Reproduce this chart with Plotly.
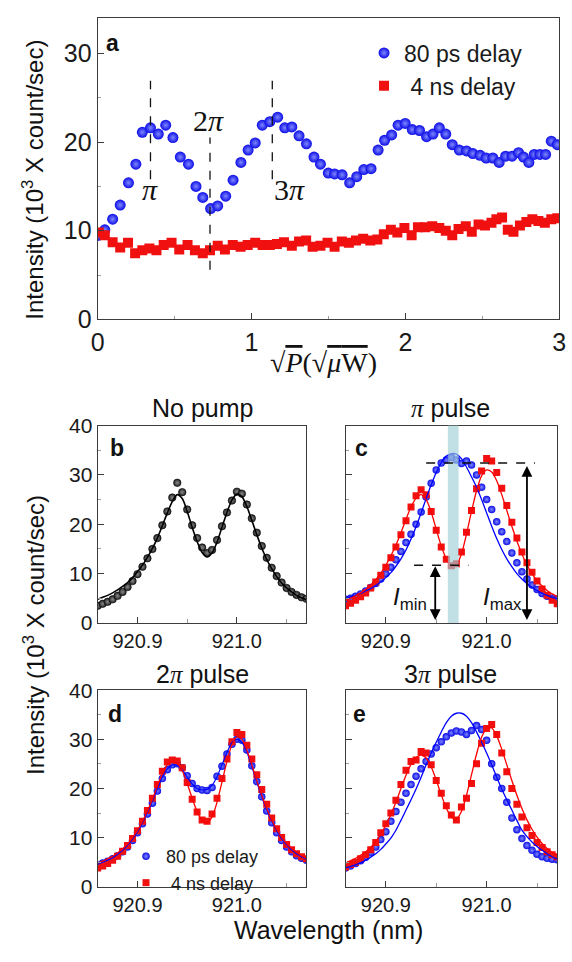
import plotly.graph_objects as go

W, H = 572, 962

# ---------------- Panel a: intensity vs sqrt(P) ----------------
A_BLUE_X = [0.007, 0.046, 0.097, 0.146, 0.2, 0.248, 0.29, 0.343, 0.394, 0.442,
            0.489, 0.537, 0.59, 0.639, 0.683, 0.734, 0.78, 0.832, 0.88, 0.931,
            0.978, 1.024, 1.07, 1.119, 1.17, 1.216, 1.262, 1.309, 1.357, 1.406,
            1.448, 1.499, 1.54, 1.589, 1.638, 1.684, 1.73, 1.777, 1.823, 1.865,
            1.911, 1.953, 1.999, 2.045, 2.092, 2.138, 2.18, 2.221, 2.263, 2.305,
            2.351, 2.398, 2.439, 2.486, 2.525, 2.569, 2.61, 2.652, 2.694, 2.736,
            2.768, 2.803, 2.838, 2.875, 2.912, 2.949, 2.988]
A_BLUE_Y = [9.5, 10.1, 11.3, 12.9, 15.4, 17.5, 21.1, 21.6, 20.9, 21.9,
            20.5, 18.3, 17.5, 15.0, 13.75, 12.5, 12.8, 13.9, 15.7, 17.7,
            19.1, 19.9, 21.9, 22.3, 22.8, 21.6, 21.7, 20.7, 19.8, 18.3,
            17.5, 16.5, 16.4, 16.3, 15.4, 16.1, 16.9, 17.0, 19.1, 20.2,
            20.8, 21.9, 22.1, 21.4, 21.3, 20.6, 20.9, 21.6, 20.9, 19.7,
            19.1, 19.0, 18.7, 18.5, 18.2, 18.2, 17.7, 18.4, 18.4, 18.8,
            18.3, 17.7, 18.6, 18.6, 18.6, 20.1, 19.7]
A_RED_X = [0.007, 0.046, 0.097, 0.146, 0.197, 0.243, 0.29, 0.336, 0.382, 0.429,
           0.48, 0.53, 0.584, 0.632, 0.683, 0.73, 0.78, 0.827, 0.878, 0.929,
           0.975, 1.024, 1.072, 1.119, 1.165, 1.211, 1.262, 1.309, 1.355, 1.397,
           1.448, 1.494, 1.54, 1.587, 1.633, 1.679, 1.726, 1.772, 1.818, 1.86,
           1.906, 1.948, 1.994, 2.041, 2.082, 2.129, 2.175, 2.221, 2.263, 2.305,
           2.346, 2.393, 2.432, 2.476, 2.518, 2.56, 2.592, 2.629, 2.666, 2.703,
           2.745, 2.787, 2.826, 2.865, 2.907, 2.949, 2.988]
A_RED_Y = [9.8, 9.5, 8.7, 8.1, 8.65, 7.45, 7.8, 8.0, 7.8, 8.4,
           8.65, 7.9, 8.4, 7.8, 7.45, 7.8, 8.3, 7.9, 8.4, 8.2,
           8.4, 8.65, 8.4, 8.4, 8.5, 8.7, 8.3, 8.8, 8.9, 8.2,
           8.3, 8.65, 8.2, 8.8, 8.65, 8.9, 9.1, 8.9, 9.0, 9.6,
           10.1, 9.8, 10.3, 9.5, 10.4, 10.4, 10.5, 10.3, 10.0, 9.5,
           10.2, 10.5, 9.9, 10.7, 10.6, 10.9, 11.3, 11.5, 10.1, 9.9,
           10.6, 11.0, 11.3, 11.1, 10.9, 11.3, 11.4]

PI_LINE_X = [0.343, 0.73, 1.135]
PI_LINE_Y0 = [15.8, 5.6, 15.8]
PI_LINE_Y1 = [26.9, 20.5, 26.9]
PI_LABELS = ["<i>π</i>", "2<i>π</i>", "3<i>π</i>"]
PI_LABEL_X = [0.342, 0.717, 1.25]
PI_LABEL_Y = [14.6, 22.4, 14.6]

# ---------------- Panels b-e: spectra ----------------
WL = [920.860, 920.865, 920.870, 920.875, 920.880, 920.885, 920.890, 920.895,
      920.900, 920.905, 920.910, 920.915, 920.920, 920.925, 920.930, 920.935,
      920.940, 920.945, 920.950, 920.955, 920.960, 920.965, 920.970, 920.975,
      920.980, 920.985, 920.990, 920.995, 921.000, 921.005, 921.010, 921.015,
      921.020, 921.025, 921.030, 921.035, 921.040, 921.045, 921.050, 921.055,
      921.060, 921.065, 921.070]

B_DATA = [3.5, 3.9, 4.3, 4.8, 5.5, 6.3, 7.3, 8.5, 9.9, 11.4,
          13.1, 15.0, 17.2, 19.8, 22.6, 25.4, 28.4, 26.5, 23.0, 19.8,
          17.2, 15.3, 14.2, 14.8, 16.8, 19.6, 22.4, 24.8, 26.6, 26.2,
          24.0, 21.2, 18.3, 15.6, 13.2, 11.2, 9.5, 8.2, 7.1, 6.3,
          5.7, 5.2, 4.9]
B_FIT = [4.8, 5.2, 5.6, 6.1, 6.7, 7.4, 8.2, 9.2, 10.4, 11.7,
         13.3, 15.1, 17.2, 19.7, 22.3, 24.6, 26.0, 25.2, 22.6, 19.4,
         16.5, 14.3, 13.4, 14.2, 16.4, 19.4, 22.4, 24.9, 26.1, 25.6,
         23.6, 20.8, 17.9, 15.2, 12.9, 11.0, 9.4, 8.1, 7.1, 6.3,
         5.6, 5.1, 4.7]

C_BLUE = [4.8, 5.0, 5.4, 5.9, 6.5, 7.2, 8.0, 8.9, 10.0, 11.3,
          12.8, 14.5, 16.3, 18.0, 20.0, 22.5, 25.5, 28.3, 31.0, 32.4,
          33.0, 33.5, 33.0, 32.3, 32.8, 32.0, 30.0, 27.5, 25.0, 23.0,
          20.5, 18.5, 16.5, 14.2, 12.2, 10.4, 8.9, 7.7, 6.8, 6.0,
          5.4, 5.0, 4.8]
C_BLUE_FIT = [5.0, 5.3, 5.6, 6.0, 6.5, 7.0, 7.6, 8.3, 9.2, 10.2,
              11.5, 13.0, 14.8, 17.0, 19.5, 22.3, 25.2, 28.0, 30.5, 32.5,
              33.8, 34.3, 34.2, 33.3, 31.6, 29.6, 27.5, 25.0, 22.3, 19.6,
              17.1, 14.9, 13.0, 11.4, 10.0, 8.9, 8.0, 7.2, 6.6, 6.0,
              5.6, 5.2, 4.9]
C_RED = [3.5, 4.0, 4.6, 5.3, 6.1, 7.1, 8.3, 9.7, 11.3, 13.2,
         15.4, 17.9, 20.7, 23.5, 25.8, 27.0, 26.0, 22.6, 18.8, 15.4,
         12.9, 11.6, 12.0, 14.4, 18.4, 22.8, 27.2, 30.8, 33.3, 32.8,
         30.5, 27.3, 23.8, 20.4, 17.2, 14.4, 12.2, 10.3, 8.5, 6.9,
         5.6, 4.6, 3.9]
C_RED_FIT = [4.6, 5.0, 5.5, 6.1, 6.8, 7.7, 8.8, 10.1, 11.7, 13.6,
             15.8, 18.3, 21.0, 23.5, 25.3, 26.0, 25.0, 22.5, 19.0, 15.6,
             13.0, 11.6, 11.8, 14.0, 18.0, 22.6, 26.8, 29.8, 31.0, 30.6,
             28.8, 26.0, 22.8, 19.6, 16.6, 14.0, 11.8, 10.0, 8.6, 7.5,
             6.6, 5.9, 5.4]

D_BLUE = [4.4, 4.8, 5.2, 5.7, 6.3, 7.1, 8.1, 9.4, 11.0, 12.8,
          14.8, 17.0, 19.5, 22.0, 23.8, 24.8, 25.0, 24.2, 22.6, 21.0,
          20.0, 19.7, 19.6, 20.2, 22.5, 24.5, 27.0, 29.0, 30.0, 29.8,
          27.8, 24.6, 21.4, 18.3, 15.4, 13.0, 11.0, 9.4, 8.1, 7.1,
          6.3, 5.8, 5.4]
D_BLUE_FIT = [4.6, 5.0, 5.4, 5.9, 6.6, 7.4, 8.4, 9.7, 11.2, 13.0,
              15.1, 17.4, 19.9, 22.3, 24.0, 24.8, 24.7, 23.8, 22.3, 20.9,
              20.0, 19.7, 19.8, 20.6, 22.4, 24.8, 27.3, 29.3, 30.0, 29.4,
              27.4, 24.4, 21.3, 18.3, 15.6, 13.3, 11.4, 9.8, 8.5, 7.5,
              6.7, 6.1, 5.6]
D_RED = [3.8, 4.2, 4.7, 5.4, 6.2, 7.2, 8.4, 9.8, 11.4, 13.3,
         15.5, 18.0, 20.8, 23.5, 25.4, 25.8, 25.6, 24.2, 21.2, 17.8,
         15.2, 13.6, 13.3, 14.8, 18.0, 22.0, 26.0, 29.5, 31.4, 31.0,
         28.8, 26.0, 22.8, 19.8, 16.8, 14.0, 11.8, 10.0, 8.6, 7.5,
         6.7, 6.1, 5.7]
D_RED_FIT = [4.8, 5.2, 5.7, 6.2, 6.9, 7.7, 8.7, 10.0, 11.5, 13.3,
             15.4, 17.8, 20.5, 23.0, 24.8, 25.5, 25.1, 23.6, 21.0, 18.0,
             15.3, 13.5, 13.0, 14.2, 17.2, 21.3, 25.5, 28.9, 30.5, 30.0,
             27.8, 24.8, 21.6, 18.6, 15.9, 13.6, 11.7, 10.1, 8.8, 7.8,
             7.0, 6.3, 5.8]

E_BLUE = [3.8, 4.2, 4.7, 5.3, 6.0, 6.9, 8.1, 9.6, 11.2, 13.3,
          15.3, 17.2, 19.0, 20.8, 22.5, 24.0, 25.5, 27.0, 28.3, 29.5,
          30.5, 31.3, 31.7, 31.5, 31.0, 31.8, 32.8, 32.0, 29.8, 25.0,
          22.3, 20.0, 17.2, 14.0, 11.6, 9.8, 8.4, 7.4, 6.6, 6.1,
          5.8, 5.6, 5.5]
E_BLUE_FIT = [3.9, 4.1, 4.45, 4.85, 5.4, 6.0, 6.7, 7.6, 8.7, 9.9,
              11.5, 13.5, 15.6, 17.7, 19.9, 22.3, 24.8, 27.2, 29.4, 31.5,
              33.4, 34.7, 35.3, 35.3, 34.7, 33.4, 31.5, 29.4, 27.2, 24.8,
              22.3, 19.9, 17.7, 15.6, 13.5, 11.5, 10.2, 9.1, 8.2, 7.4,
              6.7, 6.1, 5.6]
E_RED = [4.0, 4.5, 5.0, 5.7, 6.5, 7.5, 9.0, 11.0, 12.8, 15.0,
         17.6, 20.8, 23.7, 25.5, 25.8, 27.5, 27.2, 24.8, 21.6, 19.0,
         16.5, 14.6, 13.6, 16.2, 18.0, 21.0, 25.0, 29.2, 32.2, 33.0,
         31.0, 27.2, 23.4, 20.0, 16.8, 14.2, 12.0, 10.4, 9.0, 8.0,
         7.1, 6.5, 6.1]
E_RED_FIT = [4.8, 5.3, 5.8, 6.4, 7.1, 8.0, 9.2, 10.7, 12.5, 14.7,
             17.2, 20.0, 22.7, 24.9, 26.3, 26.8, 26.2, 24.4, 21.7, 18.7,
             16.0, 14.2, 13.8, 15.3, 18.6, 22.8, 27.0, 30.4, 32.2, 32.3,
             30.7, 28.0, 24.8, 21.6, 18.6, 15.9, 13.6, 11.7, 10.1, 8.8,
             7.8, 7.0, 6.3]

# panel c markers (band, I_min / I_max levels)
BAND_X = [920.9615, 920.9722]
IMAX_LEVEL = 32.4
IMIN_LEVEL = 11.7
IMAX_SPAN = [920.940, 921.048]
IMIN_SPAN = [920.928, 920.982]
IMIN_ARROW_X = 920.949
IMAX_ARROW_X = 921.040

# ---------------- styling ----------------
SANS = "Liberation Sans"
SERIF = "Liberation Serif"
BLUE = "#0c0ce6"
RED = "#f01010"
AXC = "#3c3c3c"
MINC = "#9a9a9a"


def px(x):
    return x / W


def py(y):
    return 1 - y / H


def blue_marker(size):
    return dict(symbol="circle", size=size, color=BLUE,
                gradient=dict(type="radial", color="#7f88ff"), line=dict(width=0))


def red_marker(size):
    return dict(symbol="square", size=size, color=RED, line=dict(width=0))


fig = go.Figure()

# panel a
fig.add_trace(go.Scatter(x=A_BLUE_X, y=A_BLUE_Y, mode="markers", name="80 ps delay",
                         marker=blue_marker(11), xaxis="x", yaxis="y", legend="legend"))
fig.add_trace(go.Scatter(x=A_RED_X, y=A_RED_Y, mode="markers", name=" 4 ns delay",
                         marker=red_marker(10), xaxis="x", yaxis="y", legend="legend"))

SPEC_MS = 7.5
line_kw = dict(shape="spline", smoothing=0.8)

# panel b
fig.add_trace(go.Scatter(x=WL, y=B_DATA, mode="markers", showlegend=False,
                         marker=dict(symbol="circle", size=SPEC_MS, color="#222",
                                     gradient=dict(type="radial", color="#8a8a8a"),
                                     line=dict(width=0.6, color="#000")),
                         xaxis="x2", yaxis="y2"))
fig.add_trace(go.Scatter(x=WL, y=B_FIT, mode="lines", showlegend=False,
                         line=dict(color="#000", width=1.6, **line_kw), xaxis="x2", yaxis="y2"))

# panel c
fig.add_trace(go.Scatter(x=WL, y=C_BLUE, mode="markers", showlegend=False,
                         marker=blue_marker(SPEC_MS), xaxis="x3", yaxis="y3"))
fig.add_trace(go.Scatter(x=WL, y=C_RED, mode="markers", showlegend=False,
                         marker=red_marker(SPEC_MS - 0.5), xaxis="x3", yaxis="y3"))
fig.add_trace(go.Scatter(x=WL, y=C_BLUE_FIT, mode="lines", showlegend=False,
                         line=dict(color="#0000ff", width=1.3, **line_kw), xaxis="x3", yaxis="y3"))
fig.add_trace(go.Scatter(x=WL, y=C_RED_FIT, mode="lines", showlegend=False,
                         line=dict(color="#ff0000", width=1.3, **line_kw), xaxis="x3", yaxis="y3"))

# panel d
fig.add_trace(go.Scatter(x=WL, y=D_BLUE, mode="markers", name="80 ps delay",
                         marker=blue_marker(SPEC_MS), xaxis="x4", yaxis="y4", legend="legend2"))
fig.add_trace(go.Scatter(x=WL, y=D_RED, mode="markers", name=" 4 ns delay",
                         marker=red_marker(SPEC_MS - 0.5), xaxis="x4", yaxis="y4", legend="legend2"))
fig.add_trace(go.Scatter(x=WL, y=D_BLUE_FIT, mode="lines", showlegend=False,
                         line=dict(color="#0000ff", width=1.2, **line_kw), xaxis="x4", yaxis="y4"))
fig.add_trace(go.Scatter(x=WL, y=D_RED_FIT, mode="lines", showlegend=False,
                         line=dict(color="#ff0000", width=1.3, **line_kw), xaxis="x4", yaxis="y4"))

# panel e
fig.add_trace(go.Scatter(x=WL, y=E_BLUE, mode="markers", showlegend=False,
                         marker=blue_marker(SPEC_MS), xaxis="x5", yaxis="y5"))
fig.add_trace(go.Scatter(x=WL, y=E_RED, mode="markers", showlegend=False,
                         marker=red_marker(SPEC_MS - 0.5), xaxis="x5", yaxis="y5"))
fig.add_trace(go.Scatter(x=WL, y=E_BLUE_FIT, mode="lines", showlegend=False,
                         line=dict(color="#0000ff", width=1.3, **line_kw), xaxis="x5", yaxis="y5"))
fig.add_trace(go.Scatter(x=WL, y=E_RED_FIT, mode="lines", showlegend=False,
                         line=dict(color="#ff0000", width=1.3, **line_kw), xaxis="x5", yaxis="y5"))


def axis(domain, rng, anchor, tickfont_size, **extra):
    d = dict(domain=domain, range=rng, anchor=anchor, showline=True, mirror=True,
             linecolor=AXC, linewidth=1.2, ticks="inside", ticklen=6, tickwidth=1.1,
             tickcolor=AXC, showgrid=False, zeroline=False, ticklabeloverflow="allow",
             tickfont=dict(family=SANS, size=tickfont_size, color="#1a1a1a"))
    d.update(extra)
    return d


def minor(vals):
    return dict(tickmode="array", tickvals=vals, ticks="inside", ticklen=3.5,
                tickcolor=MINC, tickwidth=1)


LEFT_X = [px(93), px(307)]
RIGHT_X = [px(347), px(564)]
MID_Y = [py(628), py(425)]
BOT_Y = [py(899), py(697)]
WL_RANGE = [920.86, 921.07]
wl_ticks = dict(tickmode="array", tickvals=[920.9, 921.0], ticktext=["920.9", "921.0"],
                minor=minor([920.95, 921.05]))
int_ticks = dict(tickmode="array", tickvals=[0, 10, 20, 30, 40],
                 minor=minor([5, 15, 25, 35]))

fig.update_layout(
    xaxis=axis([px(93), px(566)], [0, 3], "y", 25, tickmode="array", tickvals=[0, 1, 2, 3],
               minor=minor([0.5, 1.5, 2.5])),
    yaxis=axis([py(316), py(6)], [0, 34], "x", 25, tickmode="array", tickvals=[0, 10, 20, 30],
               minor=minor([5, 15, 25])),
    xaxis2=axis(LEFT_X, WL_RANGE, "y2", 20, **wl_ticks),
    yaxis2=axis(MID_Y, [0, 40], "x2", 21, **int_ticks),
    xaxis3=axis(RIGHT_X, WL_RANGE, "y3", 20, **wl_ticks),
    yaxis3=axis(MID_Y, [0, 40], "x3", 21, showticklabels=False, **int_ticks),
    xaxis4=axis(LEFT_X, WL_RANGE, "y4", 20, **wl_ticks),
    yaxis4=axis(BOT_Y, [0, 40], "x4", 21, **int_ticks),
    xaxis5=axis(RIGHT_X, WL_RANGE, "y5", 20, **wl_ticks),
    yaxis5=axis(BOT_Y, [0, 40], "x5", 21, showticklabels=False, **int_ticks),
)

fig.update_layout(
    width=W, height=H, autosize=False,
    margin=dict(l=0, r=0, t=0, b=0),
    paper_bgcolor="white", plot_bgcolor="white",
    legend=dict(x=px(366), y=py(20), xanchor="left", yanchor="top",
                bgcolor="rgba(0,0,0,0)", borderwidth=0, tracegroupgap=0,
                font=dict(family=SANS, size=23, color="#1a1a1a")),
    legend2=dict(x=px(122), y=py(849), xanchor="left", yanchor="top",
                 bgcolor="rgba(0,0,0,0)", borderwidth=0,
                 font=dict(family=SANS, size=18, color="#1a1a1a")),
)

shapes = []
for xv, y0, y1 in zip(PI_LINE_X, PI_LINE_Y0, PI_LINE_Y1):
    shapes.append(dict(type="line", xref="x", yref="y", x0=xv, x1=xv, y0=y0, y1=y1,
                       line=dict(color="#111", width=1.3, dash="dash")))
shapes.append(dict(type="rect", xref="x3", yref="y3 domain", x0=BAND_X[0], x1=BAND_X[1],
                   y0=0, y1=1, fillcolor="#9fd0d8", opacity=0.65, line=dict(width=0),
                   layer="above"))
shapes.append(dict(type="line", xref="x3", yref="y3", x0=IMAX_SPAN[0], x1=IMAX_SPAN[1],
                   y0=IMAX_LEVEL, y1=IMAX_LEVEL, line=dict(color="#111", width=1.6, dash="dash")))
shapes.append(dict(type="line", xref="x3", yref="y3", x0=IMIN_SPAN[0], x1=IMIN_SPAN[1],
                   y0=IMIN_LEVEL, y1=IMIN_LEVEL, line=dict(color="#111", width=1.6, dash="dash")))
fig.update_layout(shapes=shapes)

ann = []
C = dict(xanchor="center", yanchor="middle", showarrow=False)
# pi labels in panel a
for t, xv, yv in zip(PI_LABELS, PI_LABEL_X, PI_LABEL_Y):
    ann.append(dict(text=t, x=xv, y=yv, xref="x", yref="y",
                    font=dict(family=SERIF, size=30, color="#111"), **C))

# panel letters
for t, xx, yy in [("a", 108, 32), ("b", 113, 448), ("c", 363, 448), ("d", 111, 721), ("e", 361, 721)]:
    ann.append(dict(text="<b>%s</b>" % t, x=px(xx), y=py(yy), xref="paper", yref="paper",
                    font=dict(family=SANS, size=23, color="#111"), **C))

PI_SPAN = "<span style='font-family:Liberation Serif'><i>π</i></span>"
for t, xx, yy in [("No pump", 200, 407), (PI_SPAN + " pulse", 455, 407),
                  ("2" + PI_SPAN + " pulse", 200, 680), ("3" + PI_SPAN + " pulse", 455, 680)]:
    ann.append(dict(text=t, x=px(xx), y=py(yy), xref="paper", yref="paper",
                    font=dict(family=SANS, size=25, color="#111"), **C))

YTITLE = "Intensity (10<sup>3</sup> X count/sec)"
for yy in [172, 640]:
    ann.append(dict(text=YTITLE, x=px(27), y=py(yy), xref="paper", yref="paper",
                    textangle=-90, font=dict(family=SANS, size=24, color="#111"), **C))

ann.append(dict(text="Wavelength (nm)", x=px(330), y=py(943), xref="paper", yref="paper",
                font=dict(family=SANS, size=25, color="#111"), **C))
OVL = "<span style='text-decoration:overline'>%s</span>"
ann.append(dict(text="√" + OVL % "<i>P</i>" + "(√" + OVL % "<i>μ</i>W" + ")",
                x=px(324), y=py(360), xref="paper", yref="paper",
                font=dict(family=SERIF, size=28, color="#111"), **C))

# arrows in panel c
for xv, top in [(IMIN_ARROW_X, IMIN_LEVEL - 0.2), (IMAX_ARROW_X, IMAX_LEVEL - 0.6)]:
    ann.append(dict(text="", x=xv, y=top, ax=xv, ay=0.3, xref="x3", yref="y3",
                    axref="x3", ayref="y3", showarrow=True, arrowside="end+start",
                    arrowhead=2, startarrowhead=2, arrowsize=1.2, startarrowsize=1.2,
                    arrowwidth=1.8, arrowcolor="#000", standoff=0, startstandoff=0))
ann.append(dict(text="<i>I</i><sub>min</sub>", x=920.924, y=5.0, xref="x3", yref="y3",
                font=dict(family=SANS, size=24, color="#111"), **C))
ann.append(dict(text="<i>I</i><sub>max</sub>", x=921.016, y=5.0, xref="x3", yref="y3",
                font=dict(family=SANS, size=24, color="#111"), **C))

fig.update_layout(annotations=ann)

fig.write_html("out.html", config={"displayModeBar": False},
               post_script="document.body.style.margin='0px';")
